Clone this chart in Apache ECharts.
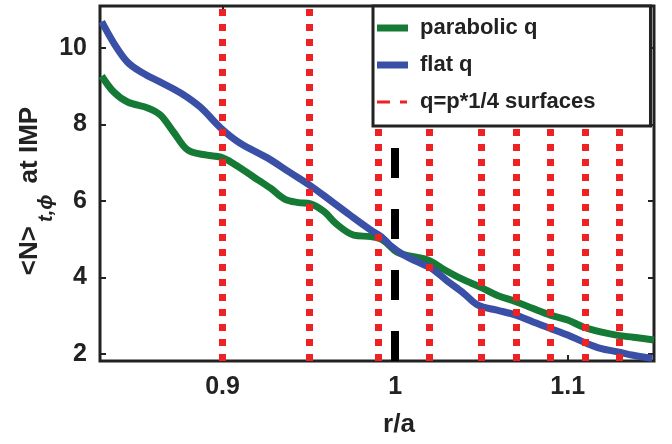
<!DOCTYPE html>
<html><head><meta charset="utf-8">
<script src="https://cdn.jsdelivr.net/npm/echarts@6/dist/echarts.min.js"></script>
<style>html,body{margin:0;padding:0;background:#fff}#c{width:672px;height:444px}</style>
</head><body><div id="c"></div>
<script>
const xTicks = [0.9, 1.0, 1.1];
const yTicks = [2, 4, 6, 8, 10];
const seriesNames = ['parabolic q', 'flat q', 'q=p*1/4 surfaces'];
const parabolicQ = [
  [0.830, 9.27], [0.837, 8.85], [0.845, 8.59], [0.857, 8.43], [0.864, 8.25], [0.872, 7.78],
  [0.880, 7.33], [0.891, 7.20], [0.899, 7.15], [0.906, 6.99], [0.918, 6.63], [0.928, 6.33],
  [0.936, 6.05], [0.944, 5.96], [0.951, 5.93], [0.959, 5.72], [0.966, 5.40], [0.976, 5.11],
  [0.986, 5.07], [0.993, 4.98], [1.001, 4.67], [1.009, 4.56], [1.019, 4.46], [1.028, 4.22],
  [1.038, 3.98], [1.050, 3.74], [1.059, 3.54], [1.070, 3.37], [1.080, 3.19], [1.090, 3.02],
  [1.100, 2.89], [1.109, 2.71], [1.119, 2.58], [1.129, 2.49], [1.138, 2.44], [1.150, 2.37]
];
const flatQ = [
  [0.830, 10.69], [0.837, 10.13], [0.845, 9.63], [0.853, 9.37], [0.864, 9.11], [0.876, 8.82],
  [0.887, 8.46], [0.899, 7.91], [0.910, 7.52], [0.926, 7.13], [0.939, 6.75], [0.951, 6.40],
  [0.963, 6.00], [0.974, 5.63], [0.986, 5.24], [0.992, 5.07], [0.997, 4.85], [1.005, 4.59],
  [1.013, 4.41], [1.021, 4.24], [1.030, 3.92], [1.040, 3.58], [1.048, 3.28], [1.059, 3.15],
  [1.070, 3.02], [1.080, 2.84], [1.090, 2.67], [1.100, 2.50], [1.109, 2.32], [1.119, 2.15],
  [1.129, 2.06], [1.138, 1.97], [1.149, 1.89]
];
const surfaces = [0.900, 0.950, 0.990, 1.021, 1.051, 1.071, 1.091, 1.111, 1.132];
const separatrix = [1.0];

const FONT = '"Liberation Sans", Arial, Helvetica, sans-serif';
const TXT = '#222';
const GREEN = '#157a35';
const BLUE = '#3a4fa6';
const RED = '#ee2222';
const DASH_ICON = 'path://M0,0h0.01v0.01h-0.01z M31,7h-0.01v-0.01h0.01z M0,2h13v3h-13z M23,2h7v3h-7z';

const chart = echarts.init(document.getElementById('c'), null, {renderer: 'canvas'});
const xMin = 0.829, xMax = 1.150, yMin = 1.82, yMax = 11.1;

function xAx(pos, showLabel) {
  return {
    type: 'value', position: pos, min: xMin, max: xMax,
    axisLine: {show: false}, splitLine: {show: false},
    axisTick: {show: true, inside: true, length: 6, lineStyle: {color: TXT, width: 2}, customValues: xTicks},
    axisLabel: {show: showLabel, customValues: xTicks, margin: 14, color: TXT, fontSize: 25, fontWeight: 'bold', fontFamily: FONT}
  };
}
function yAx(pos, showLabel) {
  return {
    type: 'value', position: pos, min: yMin, max: yMax,
    axisLine: {show: false}, splitLine: {show: false},
    axisTick: {show: true, inside: true, length: 6, lineStyle: {color: TXT, width: 2}, customValues: yTicks},
    axisLabel: {show: showLabel, customValues: yTicks, margin: 13, color: TXT, fontSize: 25, fontWeight: 'bold', fontFamily: FONT}
  };
}

chart.setOption({
  animation: false,
  backgroundColor: '#fff',
  grid: {left: 100, right: 18, top: 6, bottom: 83, show: true, borderColor: TXT, borderWidth: 3, backgroundColor: 'transparent'},
  xAxis: [xAx('bottom', true), xAx('top', false)],
  yAxis: [yAx('left', true), yAx('right', false)],
  legend: {
    data: [
      {name: seriesNames[0], icon: 'rect'},
      {name: seriesNames[1], icon: 'rect'},
      {name: seriesNames[2], icon: DASH_ICON}
    ],
    orient: 'vertical', left: 373, top: 6, z: 50, zlevel: 0,
    padding: [9, 55, 11, 4], itemGap: 11, itemWidth: 31, itemHeight: 7,
    backgroundColor: '#fff', borderColor: TXT, borderWidth: 3, borderRadius: 0,
    selectedMode: false,
    textStyle: {color: TXT, fontSize: 22, fontWeight: 'bold', fontFamily: FONT, lineHeight: 26, padding: [0, 0, 0, 7]}
  },
  graphic: [
    {type: 'text', x: 46, y: 191, rotation: Math.PI / 2, z: 10,
     style: {text: '{m|<N>}{s|t,ϕ}{m| at IMP}', align: 'center', verticalAlign: 'middle', fill: TXT,
       rich: {
         m: {fontSize: 26, fontWeight: 'bold', fontFamily: FONT, fill: TXT, lineHeight: 30, verticalAlign: 'top'},
         s: {fontSize: 20, fontWeight: 'bold', fontStyle: 'italic', fontFamily: FONT, fill: TXT, lineHeight: 58, verticalAlign: 'middle', padding: [0, 4, 0, 4]}
       }}},
    {type: 'text', x: 399, y: 425, z: 10,
     style: {text: 'r/a', align: 'center', verticalAlign: 'middle', fill: TXT, fontSize: 26, fontWeight: 'bold', fontFamily: FONT}}
  ],
  series: [
    {name: seriesNames[0], type: 'line', data: parabolicQ, showSymbol: false, symbol: 'none', smooth: 0.35,
     color: GREEN, lineStyle: {color: GREEN, width: 7}, z: 2},
    {name: seriesNames[1], type: 'line', data: flatQ, showSymbol: false, symbol: 'none', smooth: 0.35,
     color: BLUE, lineStyle: {color: BLUE, width: 7}, z: 2},
    {name: seriesNames[2], type: 'line', data: [], symbol: 'none', color: RED,
     itemStyle: {color: RED}, lineStyle: {color: RED, width: 3}, z: 3,
     markLine: {silent: true, symbol: ['none', 'none'], label: {show: false}, animation: false,
       lineStyle: {color: RED, width: 7, type: [7, 8], cap: 'butt'},
       emphasis: {disabled: true},
       data: surfaces.map(v => ({xAxis: v}))}},
    {name: 'separatrix', type: 'line', data: [], symbol: 'none', color: '#000', z: 3,
     markLine: {silent: true, symbol: ['none', 'none'], label: {show: false}, animation: false,
       lineStyle: {color: '#000', width: 8, type: [30, 31], cap: 'butt'},
       emphasis: {disabled: true},
       data: separatrix.map(v => ({xAxis: v}))}}
  ]
});
</script></body></html>
